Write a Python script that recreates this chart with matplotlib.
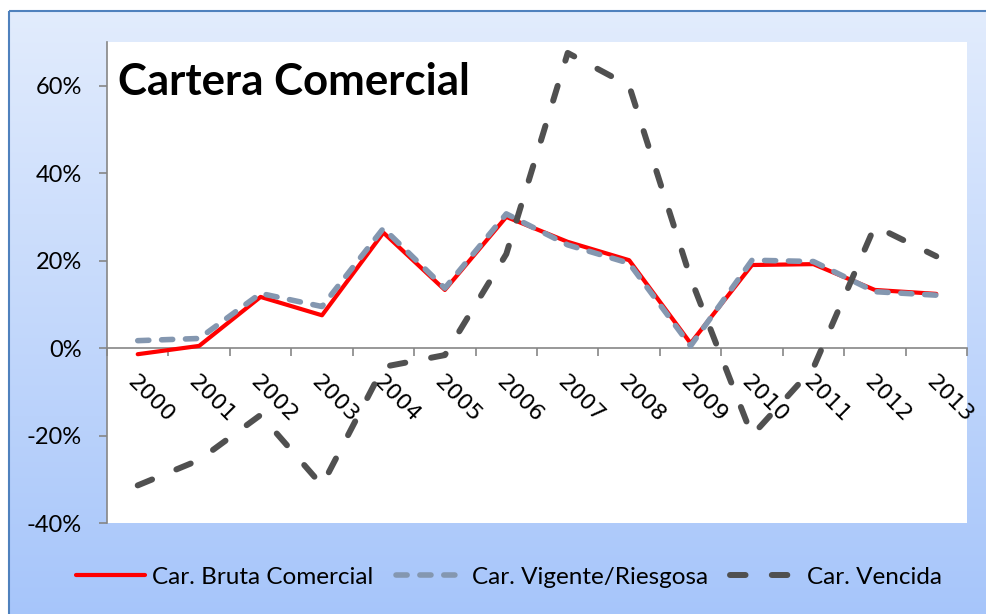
import numpy as np
import matplotlib
matplotlib.use("Agg")
import matplotlib.pyplot as plt
from matplotlib.patches import Rectangle
from matplotlib.ticker import FixedLocator, FuncFormatter

plt.rcParams['font.family'] = ['Lato', 'DejaVu Sans']

years = ["2000", "2001", "2002", "2003", "2004", "2005", "2006",
         "2007", "2008", "2009", "2010", "2011", "2012", "2013"]
bruta = [-1.4, 0.5, 11.7, 7.5, 26.4, 13.3, 30.0, 24.3, 20.1, 1.1, 19.0, 19.2, 13.3, 12.4]
vigente = [1.7, 2.2, 12.5, 9.5, 27.4, 13.7, 30.7, 23.6, 19.4, 0.5, 20.1, 19.8, 12.9, 12.1]
vencida = [-31.4, -25.6, -15.3, -31.4, -4.3, -1.6, 21.5, 67.5, 60.0, 16.0, -20.0, -4.5, 27.9, 21.0]
series_names = ["Car. Bruta Comercial", "Car. Vigente/Riesgosa", "Car. Vencida"]
title = "Cartera Comercial"
yticks = [-40, -20, 0, 20, 40, 60]

W, H = 986, 614
fig = plt.figure(figsize=(W / 100, H / 100), dpi=100, facecolor="white")

# background gradient panel
bg = fig.add_axes([0, 0, 1, 1], zorder=-10)
bg.axis("off")
top_c = np.array([226, 236, 253]) / 255
bot_c = np.array([166, 197, 250]) / 255
t = np.linspace(0, 1, 256)[:, None]
grad = top_c[None, None, :] * (1 - t[:, :, None]) + bot_c[None, None, :] * t[:, :, None]
grad = np.repeat(grad, 2, axis=1)
bg.imshow(grad, extent=(9, W + 5, H + 5, 11), aspect="auto", zorder=0)
bg.add_patch(Rectangle((9, 11), W, H, fill=False, edgecolor="#4f81bd", linewidth=1.5, zorder=1))
bg.set_xlim(0, W)
bg.set_ylim(H, 0)

ax = fig.add_axes([107 / W, 1 - 523 / H, (967 - 107) / W, (523 - 42) / H], zorder=1)
ax.set_facecolor("white")
x = np.arange(len(years))

l1, = ax.plot(x, bruta, color="#ff0000", linewidth=3.0, solid_capstyle="round", zorder=3)
l2, = ax.plot(x, vigente, color="#8497b0", linewidth=4.0, dashes=(2.0, 2.3),
              dash_capstyle="round", zorder=4)
l3, = ax.plot(x, vencida, color="#505050", linewidth=4.3, dashes=(2.6, 4.4),
              dash_capstyle="round", zorder=5)

ax.set_xlim(-0.5, len(years) - 0.5)
ax.set_ylim(-40, 70)

for s in ["top", "right"]:
    ax.spines[s].set_visible(False)
ax.spines["left"].set_color("#868686")
ax.spines["bottom"].set_color("#868686")
ax.spines["left"].set_linewidth(1.2)
ax.spines["bottom"].set_linewidth(1.2)
ax.spines["bottom"].set_position(("data", 0))
ax.spines["left"].set_bounds(-40, 70)

ax.yaxis.set_major_locator(FixedLocator(yticks))
ax.yaxis.set_major_formatter(FuncFormatter(lambda v, p: f"{v:.0f}%"))
ax.tick_params(axis="y", direction="out", length=6, width=1.2, color="#868686",
               labelsize=17, labelcolor="black", pad=12)

ax.set_xticks(x)
ax.set_xticklabels(years, rotation=-45, rotation_mode="anchor", ha="left", va="top",
                   fontfamily="DejaVu Sans", fontsize=16)
ax.set_xticks(np.arange(-0.5, len(years)), minor=True)
ax.tick_params(axis="x", which="major", length=0, pad=17)
ax.tick_params(axis="x", which="minor", direction="out", length=6, width=1.2, color="#868686")

fig.text(118 / W, 1 - 95 / H, title, fontsize=31.5, fontweight="bold", ha="left",
         va="baseline", color="black", zorder=10)

fig.legend([l1, l2, l3], series_names, loc="center", bbox_to_anchor=(0.516, 1 - 577 / H),
           ncol=3, frameon=False, fontsize=17.5, handlelength=2.85, handletextpad=0.3,
           columnspacing=0.9)

fig.savefig("out.png", dpi=100, facecolor="white")
